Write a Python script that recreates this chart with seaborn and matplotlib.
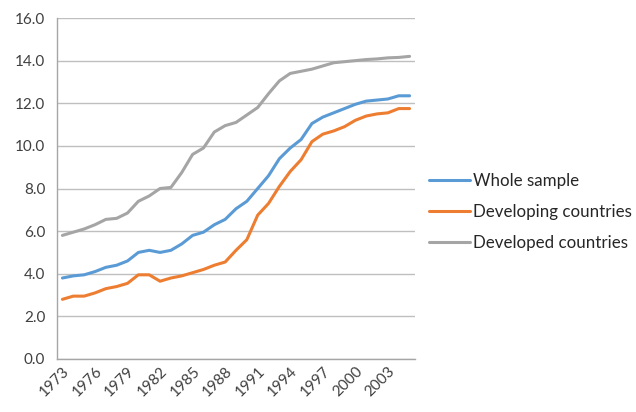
import pandas as pd
import numpy as np
import matplotlib
matplotlib.use("Agg")
import matplotlib.pyplot as plt
from matplotlib.ticker import MultipleLocator, FixedLocator
import seaborn as sns

# Dados
anos = list(range(1973, 2006))
whole_sample = [3.8, 3.9, 3.95, 4.1, 4.3, 4.4, 4.6, 5.0, 5.1, 5.0, 5.1, 5.4, 5.8, 5.95, 6.3, 6.55,
                7.05, 7.4, 8.0, 8.6, 9.4, 9.9, 10.3, 11.05, 11.35, 11.55, 11.75, 11.95, 12.1, 12.15,
                12.2, 12.35, 12.35]
developing = [2.8, 2.95, 2.95, 3.1, 3.3, 3.4, 3.55, 3.95, 3.95, 3.65, 3.8, 3.9, 4.05, 4.2, 4.4, 4.55,
              5.1, 5.6, 6.75, 7.3, 8.1, 8.8, 9.35, 10.2, 10.55, 10.7, 10.9, 11.2, 11.4, 11.5,
              11.55, 11.75, 11.75]
developed = [5.8, 5.95, 6.1, 6.3, 6.55, 6.6, 6.85, 7.4, 7.65, 8.0, 8.05, 8.75, 9.6, 9.9, 10.65, 10.95,
             11.1, 11.45, 11.8, 12.45, 13.05, 13.4, 13.5, 13.6, 13.75, 13.9, 13.95, 14.0, 14.05, 14.08,
             14.13, 14.15, 14.2]
series_names = ['Whole sample', 'Developing countries', 'Developed countries']
cores = ['#5B9BD5', '#ED7D31', '#A5A5A5']

df = pd.DataFrame({'ano': anos, series_names[0]: whole_sample,
                   series_names[1]: developing, series_names[2]: developed})
df_long = df.melt(id_vars='ano', var_name='serie', value_name='valor')

sns.set_style("white")
plt.rcParams['font.family'] = ['Lato', 'DejaVu Sans']

fig = plt.figure(figsize=(6.36, 4.12), dpi=100)
ax = fig.add_axes([57/636, 1 - 359/412, (415 - 57)/636, (359 - 18)/412])

sns.lineplot(data=df_long, x='ano', y='valor', hue='serie', hue_order=series_names,
             palette=cores, linewidth=2.2, ax=ax, legend=True)

ax.set_xlim(1972.5, 2005.5)
ax.set_ylim(0, 16)
ax.yaxis.set_major_locator(MultipleLocator(2))
ax.set_yticklabels([f'{v:.1f}' for v in ax.get_yticks()])
ax.xaxis.set_major_locator(FixedLocator(list(range(1973, 2006, 3))))
ax.xaxis.set_minor_locator(FixedLocator([a - 0.5 for a in range(1973, 2007)]))
ax.tick_params(axis='x', which='major', length=0, labelsize=11, labelcolor='#404040', pad=4)
ax.tick_params(axis='x', which='minor', length=5, color='#A6A6A6', direction='out')
ax.tick_params(axis='y', length=5, color='#A6A6A6', labelsize=11, labelcolor='#404040', direction='out')
plt.setp(ax.get_xticklabels(), rotation=45, ha='right', rotation_mode='anchor')

ax.grid(axis='y', color='#BFBFBF', linewidth=1)
ax.set_axisbelow(True)
for lado in ['top', 'right']:
    ax.spines[lado].set_visible(False)
for lado in ['left', 'bottom']:
    ax.spines[lado].set_color('#A6A6A6')
    ax.spines[lado].set_linewidth(1)
ax.set_xlabel('')
ax.set_ylabel('')

leg = ax.legend(loc='center left', bbox_to_anchor=(1.02, 0.431), frameon=False, fontsize=12.2,
                handlelength=2.4, handletextpad=0.2, labelspacing=0.9, borderaxespad=0)
for t in leg.get_texts():
    t.set_color('#262626')

fig.savefig('out.png', dpi=100)
